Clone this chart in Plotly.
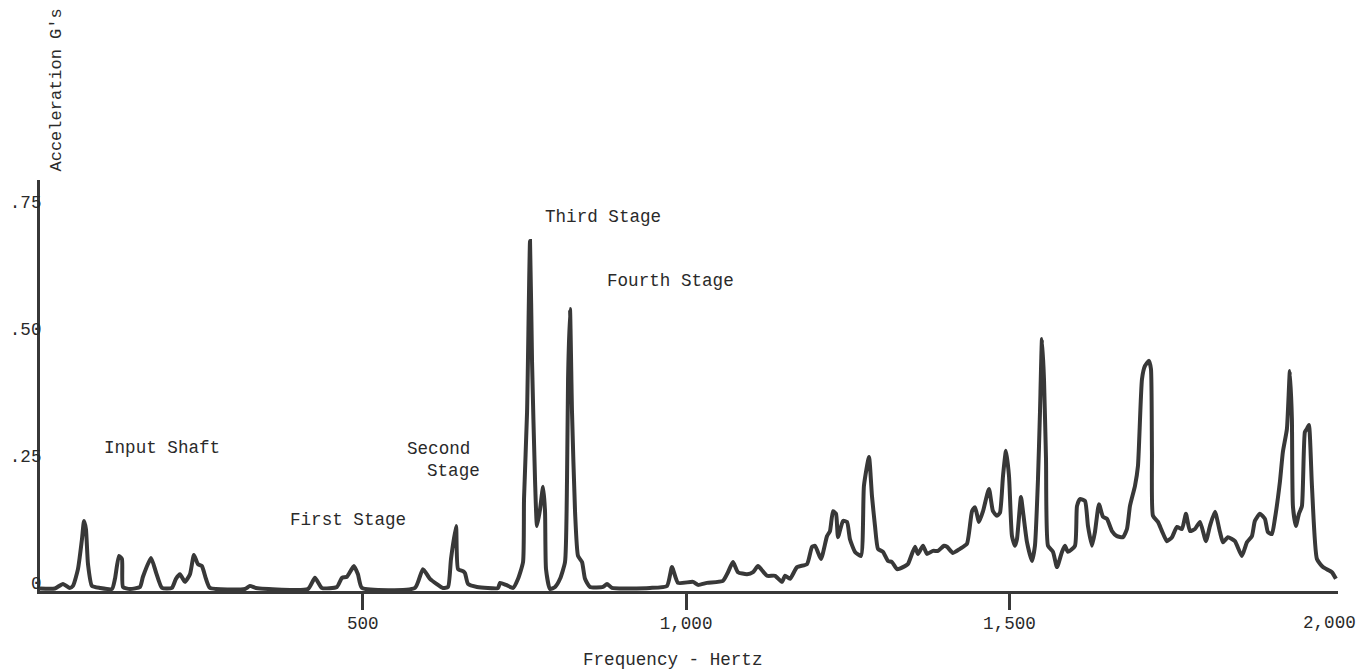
import plotly.graph_objects as go

# Frequency (Hz) and acceleration (G's)
freq_hz = [0, 24, 36.5, 47, 52, 59.7, 65.9, 69, 72, 75.2, 81.3, 93.7, 112.3, 116.9, 123.1, 127.7, 129.3,
           140, 155.6, 160.2, 172.6, 180.3, 189.6, 205, 211.2, 217.4, 225.1, 232.9, 239, 245.2, 251.4,
           257.6, 263.8, 317.9, 325.6, 334.9, 415.3, 426.1, 436.9, 460.1, 467.9, 475.6, 486.4, 492.6,
           498.8, 580.8, 593.1, 604, 624.1, 631.9, 636.5, 644.3, 647.4, 655.1, 658.2, 662.8, 676.7,
           709.2, 712.3, 721.6, 732.4, 740.2, 747.9, 749.4, 754.1, 758.7, 761.8, 766.4, 769.5, 774.2,
           778.8, 781.9, 783.4, 789.6, 797.4, 805.1, 812.8, 815.9, 817.5, 820.5, 823.6, 828.3, 832.9,
           839.1, 843.7, 851.4, 871.5, 877.7, 885.4, 944.2, 970.5, 978.2, 987.5, 1010.7, 1018.4,
           1032.3, 1057, 1064.8, 1072.5, 1080.2, 1094.2, 1103.5, 1111.2, 1125.1, 1137.5, 1148.3, 1153,
           1160.7, 1171.5, 1187, 1194.7, 1199.4, 1208.6, 1217.9, 1222.5, 1227.2, 1231.8, 1234.9,
           1242.6, 1248.8, 1253.4, 1261.2, 1270.4, 1275, 1282.8, 1287.4, 1292.1, 1296.7, 1304.4,
           1312.2, 1318.3, 1326.1, 1338.4, 1343.1, 1353.9, 1358.5, 1366.3, 1372.5, 1381.7, 1389.5,
           1398.7, 1403.4, 1412.7, 1423.5, 1434.3, 1442.1, 1446.7, 1452.9, 1459.1, 1468.3, 1474.5,
           1480.7, 1485.3, 1490, 1494.6, 1499.3, 1503.9, 1508.5, 1511.6, 1517.8, 1520.9, 1527.1,
           1534.8, 1539.4, 1544.1, 1547.2, 1550.3, 1553.4, 1556.5, 1559.6, 1567.3, 1573.5, 1581.2,
           1585.8, 1590.5, 1601.3, 1604.4, 1609, 1616.8, 1621.4, 1627.6, 1632.2, 1638.4, 1644.6,
           1650.8, 1658.5, 1666.2, 1675.5, 1681.7, 1686.3, 1694.1, 1698.7, 1704.9, 1709.5, 1715.7,
           1718.8, 1720.3, 1721.9, 1729.6, 1735.8, 1743.5, 1751.3, 1759, 1766.7, 1772.9, 1779.1,
           1786.8, 1794.6, 1803.8, 1810, 1817.7, 1825.5, 1830.1, 1837.8, 1848.6, 1859.4, 1867.2,
           1874.9, 1879.5, 1887.3, 1895, 1899.6, 1905.8, 1910.4, 1918.2, 1922.8, 1929, 1933.6,
           1936.7, 1938.3, 1942.9, 1947.6, 1952.2, 1956.8, 1959.9, 1963, 1967.7, 1975.4, 1984.7,
           1998.6, 2004.8]

accel_g = [0.005, 0.005, 0.014, 0.006, 0.01, 0.043, 0.102, 0.138, 0.122, 0.053, 0.01, 0.006, 0.004, 0.024,
           0.069, 0.063, 0.008, 0.004, 0.008, 0.028, 0.065, 0.037, 0.006, 0.006, 0.024, 0.033, 0.018,
           0.033, 0.071, 0.053, 0.049, 0.024, 0.006, 0.004, 0.01, 0.006, 0.004, 0.026, 0.006, 0.008,
           0.026, 0.028, 0.049, 0.033, 0.006, 0.006, 0.043, 0.024, 0.006, 0.008, 0.063, 0.128, 0.043,
           0.039, 0.035, 0.014, 0.008, 0.006, 0.016, 0.012, 0.006, 0.024, 0.057, 0.181, 0.352, 0.689,
           0.451, 0.220, 0.128, 0.161, 0.205, 0.156, 0.043, 0.004, 0.008, 0.024, 0.057, 0.220, 0.417,
           0.555, 0.352, 0.156, 0.069, 0.057, 0.024, 0.008, 0.008, 0.014, 0.006, 0.006, 0.01, 0.047,
           0.016, 0.018, 0.012, 0.016, 0.020, 0.037, 0.057, 0.037, 0.033, 0.037, 0.049, 0.030, 0.030,
           0.018, 0.030, 0.024, 0.047, 0.053, 0.087, 0.089, 0.063, 0.108, 0.118, 0.157, 0.152, 0.106,
           0.138, 0.136, 0.102, 0.077, 0.069, 0.207, 0.264, 0.187, 0.128, 0.083, 0.077, 0.059, 0.057,
           0.043, 0.049, 0.053, 0.087, 0.073, 0.089, 0.073, 0.079, 0.079, 0.089, 0.087, 0.075, 0.083,
           0.093, 0.157, 0.165, 0.136, 0.157, 0.201, 0.157, 0.148, 0.154, 0.226, 0.276, 0.226, 0.108,
           0.089, 0.102, 0.185, 0.157, 0.096, 0.059, 0.089, 0.220, 0.352, 0.496, 0.417, 0.260, 0.089,
           0.077, 0.047, 0.077, 0.089, 0.077, 0.089, 0.167, 0.181, 0.177, 0.128, 0.089, 0.116, 0.171,
           0.146, 0.142, 0.118, 0.108, 0.106, 0.122, 0.167, 0.207, 0.246, 0.417, 0.443, 0.453, 0.437,
           0.274, 0.148, 0.136, 0.118, 0.098, 0.106, 0.126, 0.122, 0.152, 0.118, 0.122, 0.136, 0.098,
           0.128, 0.156, 0.116, 0.096, 0.106, 0.098, 0.069, 0.096, 0.108, 0.138, 0.152, 0.142, 0.116,
           0.112, 0.142, 0.215, 0.274, 0.319, 0.433, 0.339, 0.167, 0.128, 0.152, 0.167, 0.313, 0.319,
           0.327, 0.207, 0.063, 0.047, 0.037, 0.024]

x_tick_vals = [500, 1000, 1500]
x_tick_text = ["500", "1,000", "1,500"]
y_tick_vals = [0, 0.25, 0.5, 0.75]
y_tick_text = ["0", ".25", ".50", ".75"]

FONT = "Liberation Mono, Courier New, monospace"
FS = 17.6
INK = "#2a2a2a"
LINE = "#383838"

fig = go.Figure()
fig.add_trace(go.Scatter(x=freq_hz, y=accel_g, mode="lines",
                         line=dict(color=LINE, width=4, shape="spline", smoothing=0.5),
                         hoverinfo="skip", showlegend=False))

labels = [
    ("Input Shaft", 189, 0.281),
    ("First Stage", 477, 0.140),
    ("Second", 617, 0.280),
    ("Stage", 640, 0.236),
    ("Third Stage", 871, 0.736),
    ("Fourth Stage", 976, 0.610),
]
for txt, lx, ly in labels:
    fig.add_annotation(x=lx, y=ly, xref="x", yref="y", text=txt, showarrow=False,
                       font=dict(family=FONT, size=FS, color=INK), xanchor="center", yanchor="middle")

fig.add_annotation(x=2000, y=0, xref="x", yref="paper", text="2,000", showarrow=False,
                   font=dict(family=FONT, size=FS, color=INK), xanchor="center", yanchor="middle",
                   xshift=-3, yshift=-32)
fig.add_annotation(x=0.488, y=0, xref="paper", yref="paper", text="Frequency - Hertz", showarrow=False,
                   font=dict(family=FONT, size=FS, color=INK), xanchor="center", yanchor="middle",
                   yshift=-69)
fig.add_annotation(x=0, y=1, xref="paper", yref="paper", text="Acceleration G's", showarrow=False,
                   textangle=-90, font=dict(family=FONT, size=17, color=INK),
                   xanchor="center", yanchor="bottom", xshift=16, yshift=6)

fig.update_layout(
    width=1366, height=672,
    margin=dict(l=40, r=28, t=180, b=81, autoexpand=False),
    paper_bgcolor="white", plot_bgcolor="white",
    font=dict(family=FONT, size=FS, color=INK),
)
fig.update_xaxes(range=[1, 2008], showgrid=False, zeroline=False, automargin=False,
                 showline=True, linecolor=LINE, linewidth=3,
                 tickmode="array", tickvals=x_tick_vals, ticktext=x_tick_text,
                 ticks="outside", ticklen=16, tickwidth=3, tickcolor=LINE,
                 ticklabelstandoff=-2,
                 tickfont=dict(family=FONT, size=FS, color=INK))
fig.update_yaxes(range=[0, 0.809], showgrid=False, zeroline=False, automargin=False,
                 showline=True, linecolor=LINE, linewidth=3,
                 tickmode="array", tickvals=y_tick_vals, ticktext=y_tick_text,
                 ticks="", ticklabelshift=-8, ticklabelstandoff=-8,
                 tickfont=dict(family=FONT, size=FS, color=INK))

fig.write_html("out.html", config={"displayModeBar": False},
               post_script="document.body.style.margin='0';document.body.style.overflow='hidden';")
